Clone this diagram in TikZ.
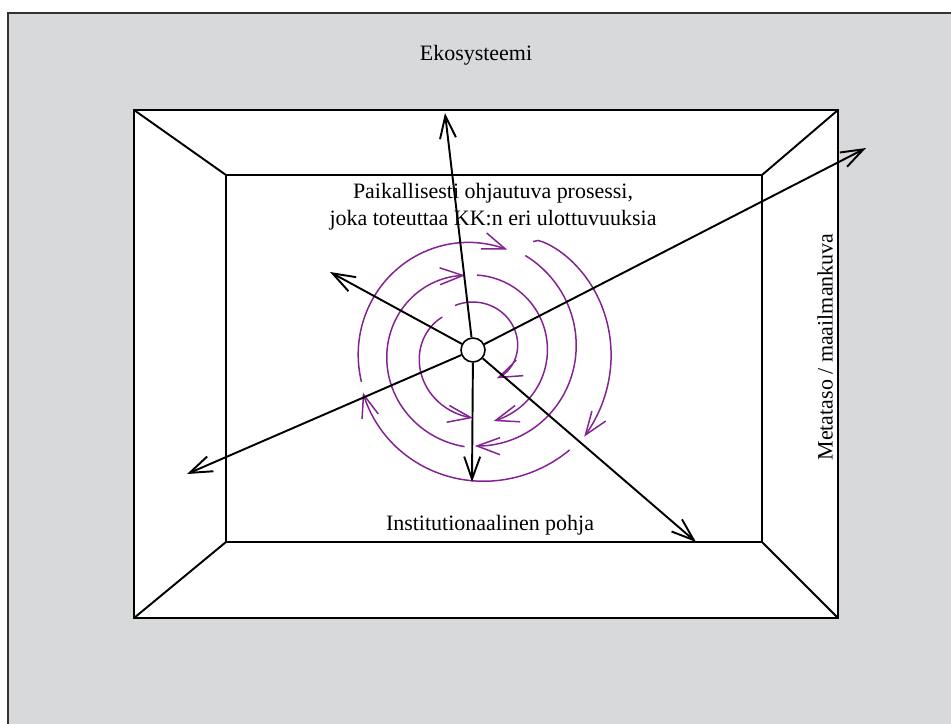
\documentclass[tikz,border=0pt]{standalone}
\usepackage{fontspec}
\setmainfont{Liberation Serif}
\usetikzlibrary{arrows.meta}
\definecolor{ecogray}{RGB}{216,217,219}
\definecolor{spiral}{RGB}{132,36,146}

\begin{document}
\begin{tikzpicture}[
    x=0.02cm, y=-0.02cm,
    font=\fontsize{12.5}{15.5}\selectfont,
    frame/.style = {draw=black, line width=1.2pt},
    edge/.style  = {line width=1.1pt},
    hub/.style   = {draw, circle, fill=white, line width=0.9pt, minimum size=4.8mm, inner sep=0pt},
    ar/.style    = {-{Straight Barb[length=4.5mm, width=3.2mm]}, line width=1.1pt},
    sp/.style    = {-{Straight Barb[length=4.6mm, width=3.4mm]}, draw=spiral, line width=0.85pt},
    lbl/.style   = {inner sep=1pt, align=center},
]
\useasboundingbox (0,0) rectangle (951,724);

% ---------------- ecosystem ----------------
\fill[ecogray] (8,13) rectangle (951,724);
\draw[line width=1pt, black!80] (8,724) -- (8,13) -- (951,13);
\node[lbl] (eco) at (476,55) {Ekosysteemi};

% ---------------- room ----------------
\coordinate (fnw) at (134,110); \coordinate (fne) at (838,110);
\coordinate (fse) at (838,618); \coordinate (fsw) at (134,618);
\coordinate (bnw) at (226,175); \coordinate (bne) at (762,175);
\coordinate (bse) at (762,542); \coordinate (bsw) at (226,542);
\fill[white] (fnw) rectangle (fse);
\draw[frame] (fnw) rectangle (fse);
\draw[frame] (bnw) rectangle (bse);
\foreach \k in {nw,ne,se,sw}
    \draw[edge] (f\k) -- (b\k);

% ---------------- labels ----------------
\node[lbl] (proc) at (493,207)
    {Paikallisesti ohjautuva prosessi,\\joka toteuttaa KK:n eri ulottuvuuksia};
\node[lbl] (base) at (490,525) {Institutionaalinen pohja};
\node[lbl, rotate=90] (meta) at (825,347) {Metataso / maailmankuva};

% ---------------- spiral ----------------
% start angle / end angle / start radius / end radius / exponent
\foreach \a/\b/\r/\s/\p in {112/-50/48/37/3, 133/270/45/68/1, 87/-74/75/74/1,
        265/96/97/75/1, 196/71/116/106/1, 61/-89/108/96/1,
        61/-38/124/141/0.4, -46/-159/139/118/1}
    \draw[sp] plot[domain=0:1, samples=60, variable=\t]
        ({473+(\r+(\s-\r)*\t^\p)*cos(\a+(\b-\a)*\t)},
         {350-(\r+(\s-\r)*\t^\p)*sin(\a+(\b-\a)*\t)});

% ---------------- hub and directions ----------------
\node[hub] (hub) at (473,350) {};
\coordinate (up) at (445,113);
\coordinate (ul) at (330,272);
\coordinate (ur) at (866,148);
\coordinate (dl) at (187,474);
\coordinate (dn) at (472,482);
\coordinate (dr) at (696,542);
\foreach \d in {up,ul,ur,dl,dn,dr}
    \draw[ar] (hub) -- (\d);

\end{tikzpicture}
\end{document}
